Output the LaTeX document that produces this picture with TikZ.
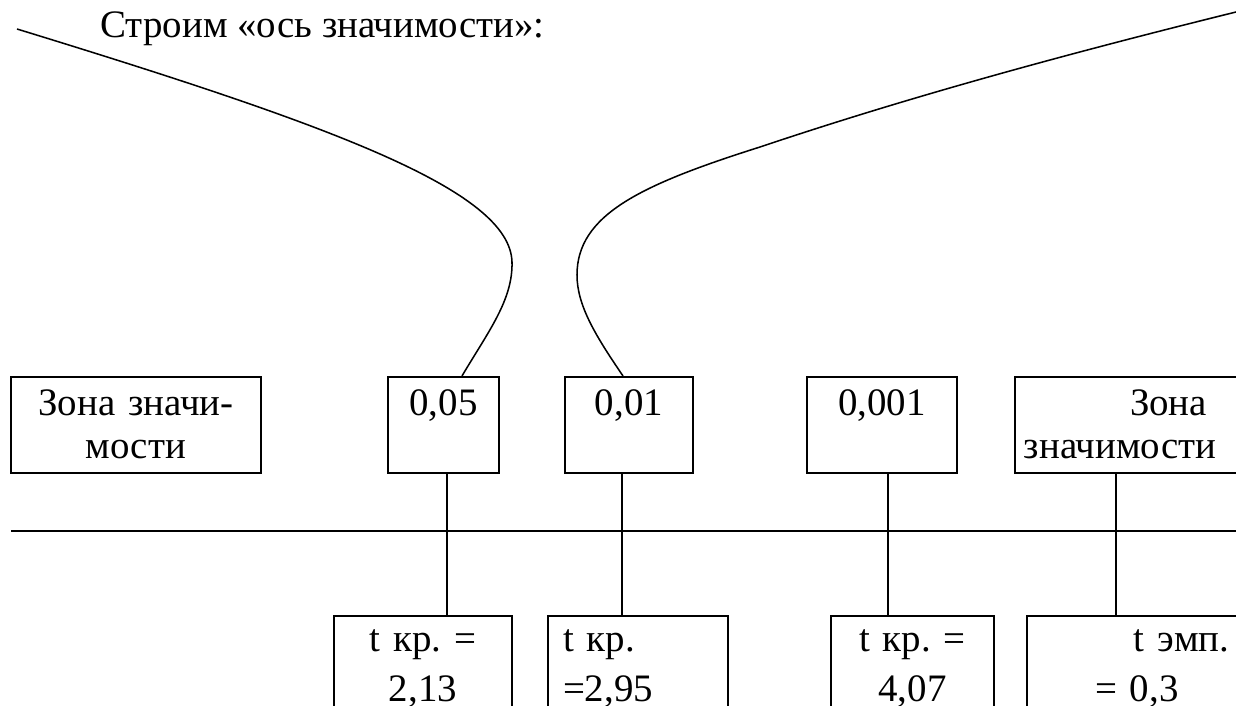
\documentclass[tikz,border=0pt]{standalone}
\usepackage{fontspec}
\setmainfont{Liberation Serif}
\frenchspacing
\begin{document}
\begin{tikzpicture}[x=0.36pt,y=-0.36pt,
    box/.style={draw,line width=0.7pt,inner sep=0pt,align=center,font=\fontsize{14}{15.8}\selectfont,text height=13.7pt,text depth=20.9pt},
    tbox/.style={draw,line width=0.7pt,inner sep=0pt,align=center,font=\fontsize{14}{18}\selectfont,text height=12.6pt,text depth=27pt},
    stem/.style={line width=0.7pt},
    wing/.style={line width=0.55pt}]
    \useasboundingbox (0,0) rectangle (1236,706);
    \clip (0,0) rectangle (1236,706);
    \node[anchor=base west,inner sep=0pt,font=\fontsize{14}{17}\selectfont] (title) at (100,38) {Строим «ось значимости»:};

    % zones and levels
    \node[box,text width=90pt] (zoneL) at (136,425) {Зона значи-\\мости};
    \node[box,text width=39.96pt] (p05) at (443.5,425) {0,05};
    \node[box,text width=46.08pt] (p01) at (629,425) {0,01};
    \node[box,text width=54pt] (p001) at (882,425) {0,001};
    \node[box,text width=84.6pt,align=left] (zoneR) at (1132.5,425) {\hspace*{41.4pt}Зона\\\hspace*{3.2pt}значимости};

    % t values
    \node[tbox,text width=64.08pt] (t05) at (423,671) {t кр. =\\2,13};
    \node[tbox,text width=64.8pt,align=left] (t01) at (638,671) {\hspace*{5.4pt}t кр.\\\hspace*{5.4pt}=2,95};
    \node[tbox,text width=58.68pt] (t001) at (912.5,671) {t кр. =\\4,07};
    \node[tbox,text width=83.88pt,align=left] (temp) at (1143.5,671) {\hspace*{38.5pt}t эмп.\\\hspace*{24.5pt}= 0,3};

    % axis
    \coordinate (axL) at (11,531);
    \coordinate (axR) at (1240,531);
    \draw[stem] (axL) -- (axR);
    \coordinate (x05) at (447,531);
    \coordinate (x01) at (622,531);
    \coordinate (x001) at (888,531);
    \coordinate (xemp) at (1116,531);
    \draw[stem] (p05.south -| x05) -- (t05.north -| x05);
    \draw[stem] (p01.south -| x01) -- (t01.north -| x01);
    \draw[stem] (p001.south -| x001) -- (t001.north -| x001);
    \draw[stem] (zoneR.south -| xemp) -- (temp.north -| xemp);

    % curves
    \coordinate (wl) at (17,29);
    \coordinate (wr) at (1240,11);
    \coordinate (fl) at (462,0);
    \coordinate (fr) at (623,0);
    \draw[wing] (wl) .. controls (330,125) and (510,190) .. (512,262)
        .. controls (513,300) and (488,332) .. (p05.north -| fl);
    \draw[wing] (p01.north -| fr) .. controls (595,335) and (577,305) .. (577,275)
        .. controls (577,215) and (640,185) .. (760,147)
        .. controls (900,100) and (1050,58) .. (wr);
\end{tikzpicture}
\end{document}
